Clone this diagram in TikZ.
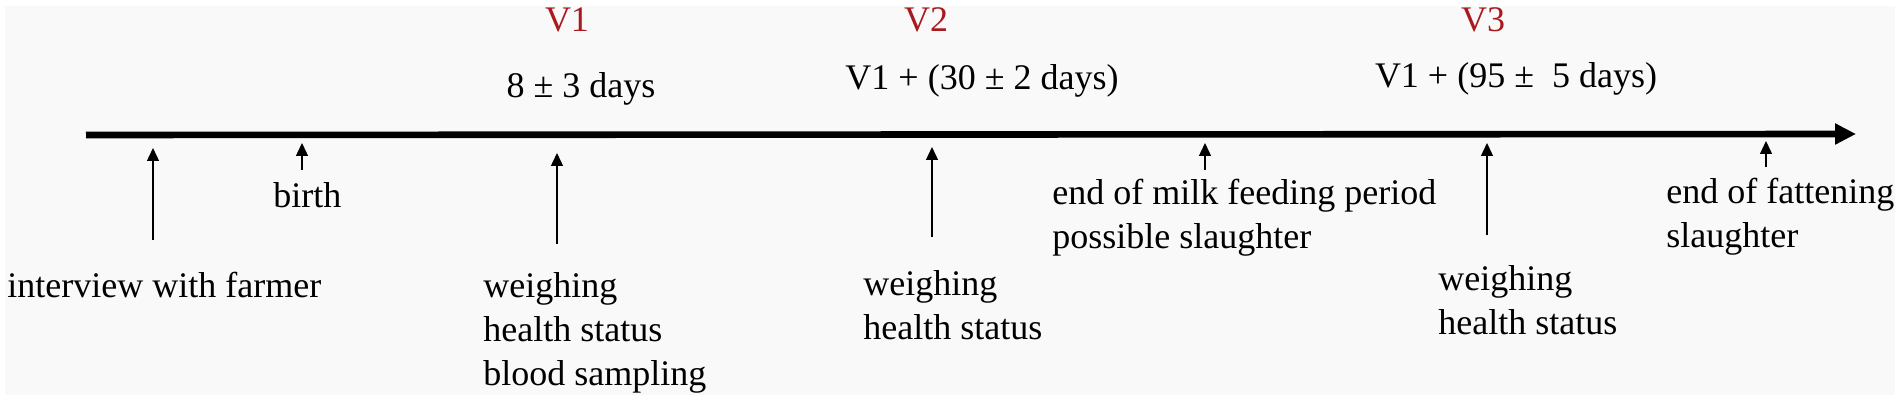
\documentclass[tikz,border=0pt]{standalone}
\usepackage{fontspec}
\setmainfont{Liberation Serif}
\usetikzlibrary{arrows.meta}
\definecolor{visitred}{RGB}{170, 25, 30}
\definecolor{paper}{RGB}{249, 249, 249}

\begin{document}
\begin{tikzpicture}[x=0.5pt, y=-0.5pt,
        lbl/.style={inner sep=0pt, font=\fontsize{18}{22}\selectfont, align=left},
        visit/.style={lbl, text=visitred},
        pointer/.style={line width=0.7pt, -{Triangle[length=6.5pt, width=6pt]}},
        timeline/.style={line width=3.3pt, -{Triangle[length=10.5pt, width=10pt]}}]
        % Background
        \fill[white] (0,0) rectangle (1902,401);
        \fill[paper] (5,6) rectangle (1895,395);

        % Timeline
        \coordinate (start) at (86,135);
        \coordinate (end) at (1856,134);
        \draw[timeline] (start) -- (end);

        % Interview
        \coordinate (interview tail) at (153,240);
        \coordinate (interview tip) at (153,148);
        \draw[pointer] (interview tail) -- (interview tip);
        \node[lbl, anchor=north west] (interview) at (7,272) {interview with farmer};

        % Birth
        \coordinate (birth tail) at (302,170);
        \coordinate (birth tip) at (302,143);
        \draw[pointer] (birth tail) -- (birth tip);
        \node[lbl, anchor=north west] (birth) at (273,182) {birth};

        % V1
        \node[visit, anchor=base] (v1) at (567,32) {V1};
        \node[lbl, anchor=base] (v1 time) at (581,98) {8 ± 3 days};
        \coordinate (v1 tail) at (557,244);
        \coordinate (v1 tip) at (557,153);
        \draw[pointer] (v1 tail) -- (v1 tip);
        \node[lbl, anchor=north west] (v1 tasks) at (483,272) {weighing\\health status\\blood sampling};

        % V2
        \node[visit, anchor=base] (v2) at (926,32) {V2};
        \node[lbl, anchor=base] (v2 time) at (982,90) {V1 + (30 ± 2 days)};
        \coordinate (v2 tail) at (932,237);
        \coordinate (v2 tip) at (932,147);
        \draw[pointer] (v2 tail) -- (v2 tip);
        \node[lbl, anchor=north west] (v2 tasks) at (863,270) {weighing\\health status};

        % End of milk feeding
        \coordinate (milk tail) at (1205,170);
        \coordinate (milk tip) at (1205,143);
        \draw[pointer] (milk tail) -- (milk tip);
        \node[lbl, anchor=north west] (milk) at (1052,179) {end of milk feeding period\\possible slaughter};

        % V3
        \node[visit, anchor=base] (v3) at (1483,32) {V3};
        \node[lbl, anchor=base] (v3 time) at (1516,88) {V1 + (95 ±\ \ 5 days)};
        \coordinate (v3 tail) at (1487,235);
        \coordinate (v3 tip) at (1487,143);
        \draw[pointer] (v3 tail) -- (v3 tip);
        \node[lbl, anchor=north west] (v3 tasks) at (1438,265) {weighing\\health status};

        % End of fattening
        \coordinate (fattening tail) at (1766,167);
        \coordinate (fattening tip) at (1766,141);
        \draw[pointer] (fattening tail) -- (fattening tip);
        \node[lbl, anchor=north west] (fattening) at (1666,178) {end of fattening\\slaughter};
    \end{tikzpicture}
\end{document}
